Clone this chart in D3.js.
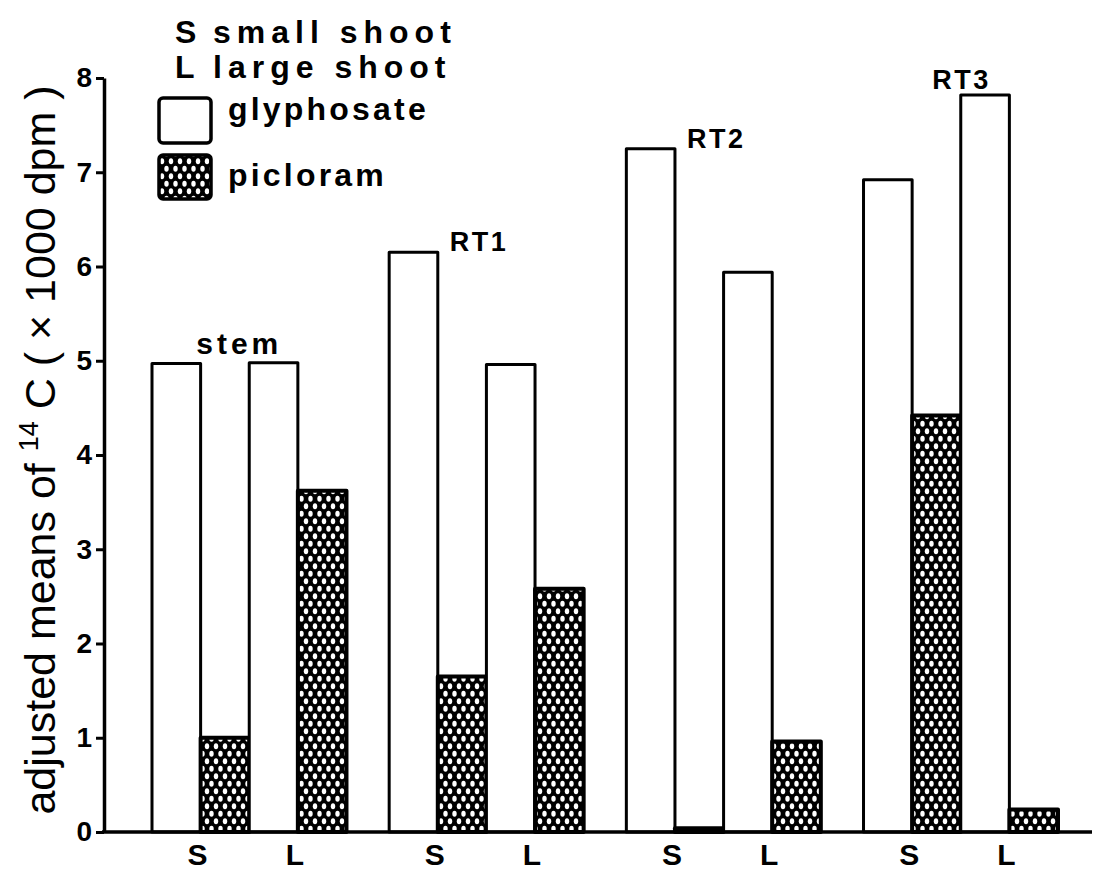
<!DOCTYPE html>
<meta charset="utf-8">
<html>
<style>
body { margin: 0; background: #fff; }
svg { display: block; font-family: "Liberation Sans", Arial, Helvetica, sans-serif; }
.tick text { font-weight: bold; font-size: 28px; }
.lbl { font-weight: bold; fill: #000; }
</style>
<svg width="1097" height="873"></svg>
<script src="https://d3js.org/d3.v7.min.js"></script>
<script>
// adjusted means of 14C (x 1000 dpm)
var groups = ["stem", "RT1", "RT2", "RT3"];
var shoots = ["S", "L"];
var glyphosateS = [4.97, 6.15, 7.25, 6.92];
var glyphosateL = [4.98, 4.96, 5.94, 7.82];
var picloramS = [1.0, 1.65, 0.04, 4.42];
var picloramL = [3.62, 2.58, 0.96, 0.24];
var yTicks = [0, 1, 2, 3, 4, 5, 6, 7, 8];

var svg = d3.select("svg");

var x0 = d3.scaleBand().domain(groups).range([152, 1058]).paddingInner(0.18);
var x1 = d3.scaleBand().domain(["gS", "pS", "gL", "pL"]).range([0, x0.bandwidth()]);
var y = d3.scaleLinear().domain([0, 8]).range([832, 78]);

// picloram fill: black with staggered white dots
var pat = svg.append("defs").append("pattern")
    .attr("id", "dots")
    .attr("patternUnits", "userSpaceOnUse")
    .attr("width", 9).attr("height", 15);
pat.append("rect").attr("width", 9).attr("height", 15).attr("fill", "#000");
[[4.5, 3.75], [0, 11.25], [9, 11.25]].forEach(function(p) {
  pat.append("ellipse").attr("cx", p[0]).attr("cy", p[1])
    .attr("rx", 2.2).attr("ry", 2.9).attr("fill", "#fff");
});

var bars = [];
groups.forEach(function(g, i) {
  bars.push({g: g, k: "gS", v: glyphosateS[i], pic: false});
  bars.push({g: g, k: "pS", v: picloramS[i], pic: true});
  bars.push({g: g, k: "gL", v: glyphosateL[i], pic: false});
  bars.push({g: g, k: "pL", v: picloramL[i], pic: true});
});

svg.append("g")
  .selectAll("rect")
  .data(bars)
  .join("rect")
    .attr("x", d => x0(d.g) + x1(d.k))
    .attr("y", d => y(d.v))
    .attr("width", x1.bandwidth())
    .attr("height", d => y(0) - y(d.v))
    .attr("fill", d => d.pic ? "url(#dots)" : "#fff")
    .attr("stroke", "#000")
    .attr("stroke-width", d => d.pic ? 4 : 3)
    .attr("stroke-linejoin", "round");

// y axis
var yAxis = svg.append("g")
    .attr("transform", "translate(104,0)")
    .call(d3.axisLeft(y).tickValues(yTicks).tickSize(8).tickSizeOuter(0).tickPadding(4));
yAxis.select(".domain").attr("stroke-width", 3.5);
yAxis.selectAll(".tick line").attr("stroke-width", 3);

// x axis line
svg.append("line")
    .attr("x1", 102).attr("x2", 1092)
    .attr("y1", y(0)).attr("y2", y(0))
    .attr("stroke", "#000").attr("stroke-width", 3.5);

// S / L labels under each shoot pair
var xl = [];
groups.forEach(function(g) {
  shoots.forEach(function(s) { xl.push({g: g, s: s}); });
});
svg.append("g")
  .selectAll("text")
  .data(xl)
  .join("text")
    .attr("class", "lbl")
    .attr("x", d => x0(d.g) + x1(d.s === "S" ? "pS" : "pL") - 3)
    .attr("y", 865)
    .attr("text-anchor", "middle")
    .attr("font-size", 30)
    .text(d => d.s);

// group labels
var gl = svg.append("g").attr("class", "lbl");
gl.append("text")
    .attr("x", x0("stem") + x1("gL") - 10)
    .attr("y", y(glyphosateS[0]) - 10)
    .attr("text-anchor", "middle")
    .attr("font-size", 30)
    .attr("letter-spacing", 4)
    .text("stem");
["RT1", "RT2"].forEach(function(g) {
  var i = groups.indexOf(g);
  gl.append("text")
      .attr("x", x0(g) + x1("pS") + 12)
      .attr("y", y(glyphosateS[i]) - 1)
      .attr("font-size", 27)
      .attr("letter-spacing", 2.5)
      .text(g);
});
gl.append("text")
    .attr("x", x0("RT3") + x1("gL") + 30)
    .attr("y", y(glyphosateL[3]) - 6)
    .attr("text-anchor", "end")
    .attr("font-size", 27)
    .attr("letter-spacing", 2.5)
    .text("RT3");

// y axis title
var t = svg.append("text")
    .attr("transform", "translate(55,450) rotate(-90)")
    .attr("text-anchor", "middle")
    .attr("font-size", 43);
t.append("tspan").text("adjusted means of ");
t.append("tspan").attr("font-size", 27).attr("dy", -17).text("14");
t.append("tspan").attr("dy", 17).text(" C ( \u00d7 1000 dpm )");

// legend
var lg = svg.append("g").attr("class", "lbl");
var keyLines = [["S", "small shoot", 43], ["L", "large shoot", 78]];
keyLines.forEach(function(k) {
  lg.append("text").attr("x", 175).attr("y", k[2]).attr("font-size", 32).text(k[0]);
  lg.append("text").attr("x", 213).attr("y", k[2]).attr("font-size", 32)
      .attr("letter-spacing", 6).text(k[1]);
});
lg.append("rect").attr("x", 159).attr("y", 98).attr("width", 52).attr("height", 45).attr("rx", 4)
    .attr("fill", "#fff").attr("stroke", "#000").attr("stroke-width", 3.5);
lg.append("rect").attr("x", 159).attr("y", 155).attr("width", 52).attr("height", 44).attr("rx", 4)
    .attr("fill", "url(#dots)").attr("stroke", "#000").attr("stroke-width", 3.5);
lg.append("text").attr("x", 228).attr("y", 120).attr("font-size", 32)
    .attr("letter-spacing", 3.2).text("glyphosate");
lg.append("text").attr("x", 228).attr("y", 186).attr("font-size", 32)
    .attr("letter-spacing", 3.2).text("picloram");
</script>
</html>
